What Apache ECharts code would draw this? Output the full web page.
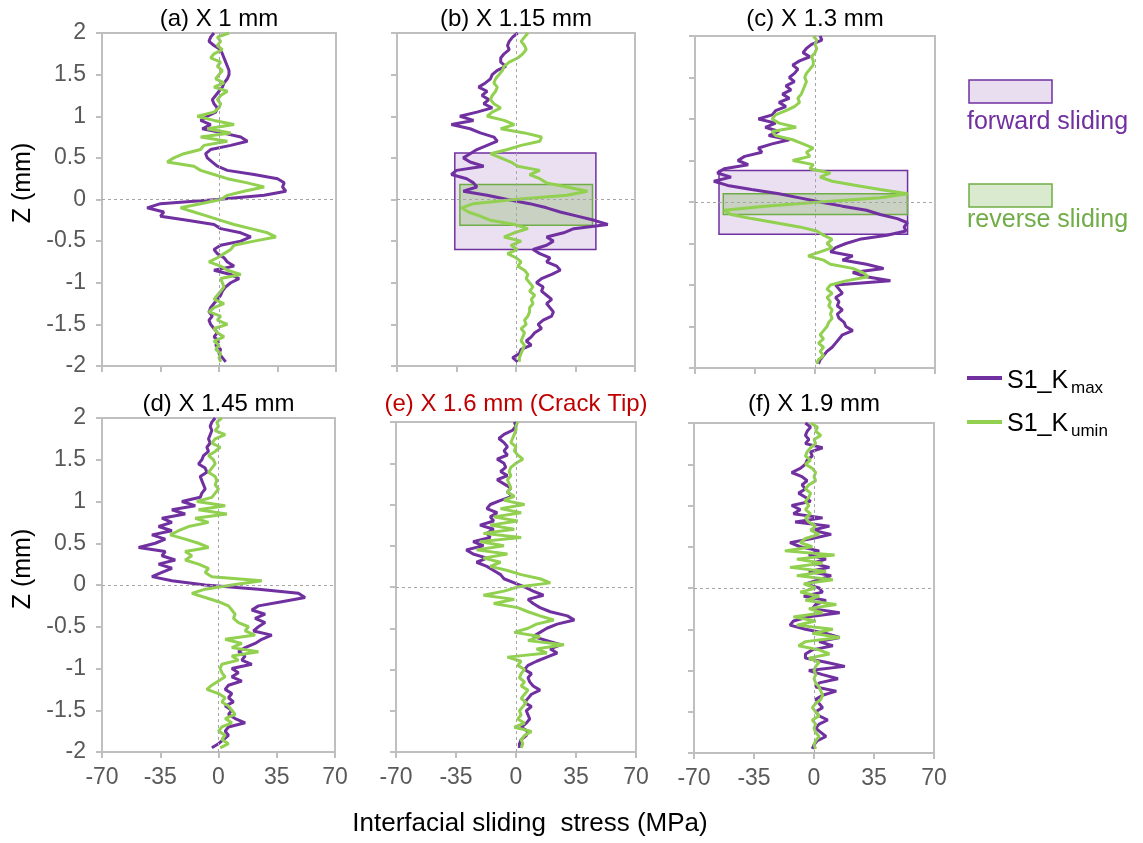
<!DOCTYPE html>
<html>
<head>
<meta charset="utf-8">
<script src="https://cdn.jsdelivr.net/npm/echarts@6/dist/echarts.min.js"></script>
<style>
  html, body { margin: 0; background: #fff; }
  #chart { width: 1143px; height: 843px; }
</style>
</head>
<body>
<div id="chart"></div>
<script>
// Z positions (mm), shared by every profile, top to bottom
const zPos = [
  2, 1.95, 1.9, 1.85, 1.8, 1.75, 1.7, 1.65, 1.6, 1.55,
  1.5, 1.45, 1.4, 1.35, 1.3, 1.25, 1.2, 1.15, 1.1, 1.05,
  1, 0.95, 0.9, 0.85, 0.8, 0.75, 0.7, 0.65, 0.6, 0.55,
  0.5, 0.45, 0.4, 0.35, 0.3, 0.25, 0.2, 0.15, 0.1, 0.05,
  0, -0.05, -0.1, -0.15, -0.2, -0.25, -0.3, -0.35, -0.4, -0.45,
  -0.5, -0.55, -0.6, -0.65, -0.7, -0.75, -0.8, -0.85, -0.9, -0.95,
  -1, -1.05, -1.1, -1.15, -1.2, -1.25, -1.3, -1.35, -1.4, -1.45,
  -1.5, -1.55, -1.6, -1.65, -1.7, -1.75, -1.8, -1.85, -1.9, -1.95
]

const panelTitles = ['(a) X 1 mm', '(b) X 1.15 mm', '(c) X 1.3 mm',
  '(d) X 1.45 mm', '(e) X 1.6 mm (Crack Tip)', '(f) X 1.9 mm']

const xTicks = [-70, -35, 0, 35, 70]
const zTicks = [-2, -1.5, -1, -0.5, 0, 0.5, 1, 1.5, 2]

// interfacial sliding stress (MPa), S1_Kmax
const kmaxA = [
  -3, -5, -6, -3, 1, 2, 3, 4, 5, 6,
  6, 5, 3, 2, 0, -2, -4, -3, -1, -2,
  -7, -11, -5, -10, 2, 13, 17, 7, -5, -8,
  -7, -4, -1, 5, 21, 35, 39, 38, 40, 27,
  -1, -35, -43, -33, -35, -19, -3, 1, 13, 19,
  13, 1, -3, -1, 3, 5, 9, -3, 7, 12,
  7, 4, 2, 1, -1, -3, -5, -6, -4, -6,
  -5, -3, -1, -3, 0, -2, 1, 0, 2, 4
]
const kmaxB = [
  1, -2, -4, -5, -4, -7, -9, -9, -6, -11,
  -14, -15, -18, -22, -17, -20, -16, -19, -14, -23,
  -33, -25, -38, -27, -21, -13, -11, -17, -23, -27,
  -31, -27, -19, -35, -38, -29, -25, -23, -31, -17,
  -5, 8, 18, 26, 36, 46, 54, 34, 28, 18,
  22, 18, 10, 14, 20, 18, 24, 26, 21, 15,
  12, 16, 15, 18, 21, 18, 20, 22, 21, 16,
  13, 15, 11, 9, 6, 9, 3, 2, -2, 1
]
const kmaxC = [
  3, 4, -2, -5, -7, -3, -9, -13, -10, -12,
  -15, -12, -17, -14, -19, -15, -21, -17, -23, -25,
  -33, -23, -29, -21, -27, -15, -25, -33, -31, -41,
  -45, -39, -53, -57, -49, -59, -51, -37, -21, -9,
  3, 16, 30, 38, 48, 54, 52, 53, 42, 26,
  18, 12, 9, 22, 16, 30, 40, 22, 30, 44,
  12, 14, 16, 12, 14, 13, 16, 13, 14, 17,
  18, 22, 16, 14, 12, 10, 7, 5, 3, 2
]
const kmaxD = [
  -2, -4, -5, -4, -5, -6, -5, -7, -6, -9,
  -10, -12, -8, -7, -11, -10, -9, -8, -10, -11,
  -22, -14, -28, -20, -34, -28, -36, -28, -40, -32,
  -38, -48, -32, -34, -26, -36, -28, -34, -40, -28,
  -8, 24, 48, 52, 38, 24, 20, 28, 22, 28,
  24, 21, 32, 26, 22, 16, 12, 16, 14, 20,
  8, 12, 8, 14, 6, 4, 8, 6, 9, 4,
  8, 6, 10, 16, 6, 4, 6, 3, 0, -4
]
const kmaxE = [
  -1, 0, -2, -7, -10, -7, -5, -7, -5, -11,
  -7, -6, -9, -5, -11, -7, -3, -5, -2, -9,
  -15, -17, -11, -15, -13, -21, -13, -17, -15, -25,
  -19, -29, -25, -17, -23, -17, -13, -9, -7, -1,
  5, 10, 16, 7, 10, 14, 20, 30, 34, 24,
  18, 14, 10, 18, 26, 20, 24, 18, 12, 7,
  5, 9, 7, 8, 10, 14, 9, 7, 5, 9,
  6, 7, 8, 6, 3, 7, 6, 3, 2, 2
]
const kmaxF = [
  -5, -2, -4, -5, -3, -5, 5, -2, -1, -4,
  -5, -8, -13, -7, -4, -7, -5, -9, -5, -2,
  -13, -8, -12, 5, -11, 9, -1, 10, -1, -14,
  -8, 3, -3, 7, -1, 9, -3, 10, 3, -5,
  3, 5, -6, 7, 1, -1, 15, -3, -12, -14,
  -5, 7, 15, 3, 11, -1, -5, -5, 7, 18,
  -3, 5, 14, 3, 1, 13, 5, 1, 3, 5,
  1, 3, 8, 3, 1, 4, 7, 2, 0, -1
]

// interfacial sliding stress (MPa), S1_Kumin
const kuminA = [
  6, -1, 1, -1, 2, -3, -5, 1, -1, 2,
  0, -2, 3, -3, 5, 1, -1, 1, 0, -3,
  -13, -3, 9, -7, 7, -11, 5, -9, -11, -21,
  -27, -31, -15, -11, -3, 5, 17, 27, 15, 5,
  1, -11, -23, -15, -7, 1, 9, 19, 29, 34,
  21, 9, 7, 3, -1, -6, 1, 5, 13, 1,
  2, 3, 1, -1, -3, 3, -3, -6, 1, -1,
  5, -3, -1, 3, -3, 0, -2, 1, 0, 1
]
const kuminB = [
  7, 5, 3, 5, 6, 4, 1, -4, -7, -8,
  -10, -12, -13, -11, -12, -14, -15, -13, -9, -14,
  -17, -7, -1, -9, 5, 15, 14, 3, -5, -15,
  -9, -3, 1, 14, 8, 14, 18, 30, 42, 30,
  -1, -25, -32, -28, -21, -15, -1, 7, -1, -7,
  3, -3, 1, -5, 0, 3, 1, 5, 7, 6,
  8, 10, 8, 11, 9, 10, 8, 8, 7, 5,
  6, 3, 5, 4, 3, 5, 4, 3, 2, 2
]
const kuminC = [
  -1, 1, 0, 1, 0, -2, -1, -1, -3, -5,
  -6, -5, -6, -7, -8, -10, -9, -12, -17, -23,
  -25, -21, -11, -25, -23, -13, -7, -1, -5, -3,
  -13, -1, -3, 9, 3, 10, 24, 38, 54, 38,
  3, -29, -53, -49, -37, -23, -9, 1, 5, 10,
  7, 10, 3, -4, 5, 9, 22, 28, 31, 18,
  9, 7, 10, 7, 9, 8, 10, 9, 10, 8,
  7, 5, 3, 5, 2, 5, 3, 5, 2, 1
]
const kuminD = [
  2, -1, 0, -2, 4, -2, -4, 1, -2, -6,
  -3, -2, -4, -6, -2, -1, -2, 0, -2, -4,
  -13, 4, -12, 5, -14, -6, -18, -24, -29, -20,
  -12, -6, -20, -16, -20, -12, -6, -8, -4, 26,
  8, -8, -16, -8, 0, 6, 8, 10, 9, 12,
  18, 16, 22, 4, 14, 8, 24, 8, 12, 2,
  1, 2, 4, 0, -4, -7, 0, 4, 2, 6,
  8, 10, 4, 8, 2, 0, 4, 2, 6, 1
]
const kuminE = [
  1, 0, 0, -1, -2, -3, 0, -1, 1, 4,
  0, -3, -4, -3, -5, -4, -3, -5, -1, -7,
  5, -9, 3, -13, 1, -15, -1, -19, 3, -21,
  -7, -23, -5, -19, -9, -15, -5, 3, 14, 20,
  1, -7, -19, -1, -13, 1, 7, 14, 22, 12,
  7, -1, 14, 7, 28, 12, 18, -5, 3, 1,
  5, 3, 2, 5, 3, 7, 5, 3, 6, 4,
  2, 3, 1, 5, -1, 9, 5, 3, 4, 3
]
const kuminF = [
  -2, 2, 1, 4, 0, 1, -2, -4, -5, -2,
  -5, -1, 1, 0, 1, -3, -5, -2, -3, -5,
  -3, -5, -2, -5, -3, 1, -2, 3, -5, -8,
  -1, -17, 12, -10, 5, -14, 7, -10, 11, -6,
  1, -8, 3, -5, 13, -3, 5, -12, 1, -10,
  11, -1, 15, -5, -9, 3, 9, -3, 3, 1,
  0, 1, 0, 1, 3, 4, 5, 4, 1, -1,
  1, 3, -1, 1, 0, 1, 3, 1, 0, 1
]

// forward / reverse sliding zones: [xMin, xMax, zMin, zMax], per panel
const forwardZones = [null, [-36, 47, -0.6, 0.56], [-56, 54, -0.39, 0.38], null, null, null]
const reverseZones = [null, [-33, 45, -0.31, 0.18], [-53.5, 54, -0.15, 0.1], null, null, null]

const kmax = [kmaxA, kmaxB, kmaxC, kmaxD, kmaxE, kmaxF]
const kumin = [kuminA, kuminB, kuminC, kuminD, kuminE, kuminF]

const PURPLE = '#7030a0'
const GREEN = '#92d050'
const GREEN_DARK = '#70ad47'
const AXIS = '#bfbfbf'
const FONT = '"Liberation Sans", Arial, sans-serif'

const grids = [
  { left: 102, top: 33, width: 234, height: 333 },
  { left: 397, top: 33, width: 238, height: 333 },
  { left: 695, top: 36, width: 240, height: 332 },
  { left: 102, top: 418, width: 233, height: 334 },
  { left: 396, top: 422, width: 240, height: 330 },
  { left: 694, top: 423, width: 240, height: 330 },
]

const toPoints = (vals) => zPos.map((z, i) => [vals[i], z])

function zone(z, fill, stroke) {
  return [
    { xAxis: z[0], yAxis: z[2], itemStyle: { color: fill, borderColor: stroke, borderWidth: 1.5 } },
    { xAxis: z[1], yAxis: z[3] },
  ]
}

const series = []
const graphic = []
grids.forEach((g, i) => {
  // zero reference lines
  series.push({
    type: 'line', xAxisIndex: i, yAxisIndex: i, data: [], z: 1, silent: true,
    markLine: {
      silent: true, symbol: ['none', 'none'], label: { show: false },
      lineStyle: { type: [3, 3], color: '#a6a6a6', width: 1 },
      data: [{ xAxis: 0 }, { yAxis: 0 }],
    },
  })
  series.push({
    name: 'S1_Kmax', type: 'line', xAxisIndex: i, yAxisIndex: i, z: 2,
    showSymbol: false, symbol: 'none', color: PURPLE,
    lineStyle: { color: PURPLE, width: 3 }, data: toPoints(kmax[i]),
  })
  series.push({
    name: 'S1_Kumin', type: 'line', xAxisIndex: i, yAxisIndex: i, z: 3,
    showSymbol: false, symbol: 'none', color: GREEN,
    lineStyle: { color: GREEN, width: 3 }, data: toPoints(kumin[i]),
  })
  if (forwardZones[i]) {
    series.push({
      type: 'line', xAxisIndex: i, yAxisIndex: i, data: [], z: 4, silent: true,
      markArea: {
        silent: true,
        data: [
          zone(forwardZones[i], 'rgba(112,48,160,0.15)', PURPLE),
          zone(reverseZones[i], 'rgba(112,173,71,0.28)', GREEN_DARK),
        ],
      },
    })
  }
  graphic.push({
    type: 'text', x: g.left + g.width / 2, y: i < 3 ? 19 : 404,
    style: {
      text: panelTitles[i], font: '24px ' + FONT, fill: i === 4 ? '#c00000' : '#000',
      textAlign: 'center', textVerticalAlign: 'middle',
    },
  })
})

// axis titles
graphic.push(
  { type: 'text', x: 23, y: 183, rotation: Math.PI / 2,
    style: { text: 'Z (mm)', font: '25px ' + FONT, fill: '#000', textAlign: 'center', textVerticalAlign: 'middle' } },
  { type: 'text', x: 23, y: 569, rotation: Math.PI / 2,
    style: { text: 'Z (mm)', font: '25px ' + FONT, fill: '#000', textAlign: 'center', textVerticalAlign: 'middle' } },
  { type: 'text', x: 530, y: 824,
    style: { text: 'Interfacial sliding  stress (MPa)', font: '26px ' + FONT, fill: '#000', textAlign: 'center', textVerticalAlign: 'middle' } },
)

// legend on the right
graphic.push(
  { type: 'rect', shape: { x: 969, y: 80, width: 83, height: 23 },
    style: { fill: 'rgba(112,48,160,0.16)', stroke: PURPLE, lineWidth: 1.5 } },
  { type: 'text', x: 967, y: 122,
    style: { text: 'forward sliding', font: '25px ' + FONT, fill: PURPLE, textAlign: 'left', textVerticalAlign: 'middle' } },
  { type: 'rect', shape: { x: 969, y: 184, width: 83, height: 23 },
    style: { fill: 'rgba(112,173,71,0.26)', stroke: GREEN_DARK, lineWidth: 1.5 } },
  { type: 'text', x: 967, y: 220,
    style: { text: 'reverse sliding', font: '25px ' + FONT, fill: GREEN_DARK, textAlign: 'left', textVerticalAlign: 'middle' } },
  { type: 'line', shape: { x1: 967, y1: 378, x2: 1002, y2: 378 }, style: { stroke: PURPLE, lineWidth: 4 } },
  { type: 'text', x: 1007, y: 381,
    style: { text: 'S1_K', font: '25px ' + FONT, fill: '#000', textAlign: 'left', textVerticalAlign: 'middle' } },
  { type: 'text', x: 1071, y: 388,
    style: { text: 'max', font: '17px ' + FONT, fill: '#000', textAlign: 'left', textVerticalAlign: 'middle' } },
  { type: 'line', shape: { x1: 967, y1: 422, x2: 1002, y2: 422 }, style: { stroke: GREEN, lineWidth: 4 } },
  { type: 'text', x: 1007, y: 424,
    style: { text: 'S1_K', font: '25px ' + FONT, fill: '#000', textAlign: 'left', textVerticalAlign: 'middle' } },
  { type: 'text', x: 1071, y: 431,
    style: { text: 'umin', font: '17px ' + FONT, fill: '#000', textAlign: 'left', textVerticalAlign: 'middle' } },
)

const chart = echarts.init(document.getElementById('chart'), null, { renderer: 'canvas' })
chart.setOption({
  animation: false,
  backgroundColor: '#fff',
  grid: grids.map((g) => ({ ...g, show: true, borderColor: AXIS, borderWidth: 2, backgroundColor: 'transparent' })),
  xAxis: grids.map((g, i) => ({
    gridIndex: i, type: 'value',
    min: xTicks[0], max: xTicks[xTicks.length - 1], interval: xTicks[1] - xTicks[0],
    axisLine: { onZero: false, lineStyle: { color: AXIS, width: 2 } },
    axisTick: { show: true, length: 6, lineStyle: { color: AXIS, width: 2 } },
    axisLabel: { show: i >= 3, color: '#595959', fontSize: 23, fontFamily: FONT, margin: 14 },
    splitLine: { show: false },
  })),
  yAxis: grids.map((g, i) => ({
    gridIndex: i, type: 'value',
    min: zTicks[0], max: zTicks[zTicks.length - 1], interval: zTicks[1] - zTicks[0],
    axisLine: { onZero: false, lineStyle: { color: AXIS, width: 2 } },
    axisTick: { show: true, length: 6, lineStyle: { color: AXIS, width: 2 } },
    axisLabel: { show: i % 3 === 0, color: '#595959', fontSize: 23, fontFamily: FONT, margin: 16 },
    splitLine: { show: false },
  })),
  series,
  graphic,
})
window.addEventListener('resize', () => chart.resize())
</script>
</body>
</html>
